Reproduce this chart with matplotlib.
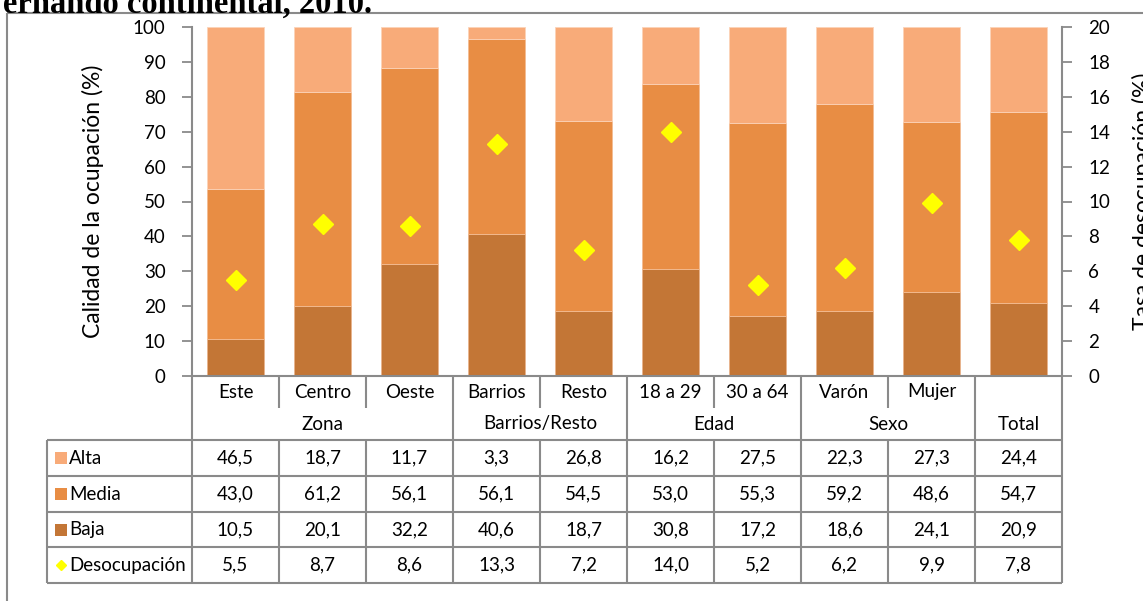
import matplotlib
matplotlib.use('Agg')
import matplotlib.pyplot as plt
import matplotlib.transforms as mtransforms
from matplotlib.lines import Line2D
from matplotlib.patches import Rectangle

plt.rcParams['font.family'] = ['Lato', 'DejaVu Sans']

# ── Datos ───────────────────────────────────────────────────────────
categorias = ['Este', 'Centro', 'Oeste', 'Barrios', 'Resto',
              '18 a 29', '30 a 64', 'Varón', 'Mujer', '']
grupos = ['Zona', 'Barrios/Resto', 'Edad', 'Sexo', 'Total']
grupo_tam = [3, 2, 2, 2, 1]
alta = [46.5, 18.7, 11.7, 3.3, 26.8, 16.2, 27.5, 22.3, 27.3, 24.4]
media = [43.0, 61.2, 56.1, 56.1, 54.5, 53.0, 55.3, 59.2, 48.6, 54.7]
baja = [10.5, 20.1, 32.2, 40.6, 18.7, 30.8, 17.2, 18.6, 24.1, 20.9]
desocupacion = [5.5, 8.7, 8.6, 13.3, 7.2, 14.0, 5.2, 6.2, 9.9, 7.8]

# ── Estilo ──────────────────────────────────────────────────────────
C_ALTA = '#F8AB79'
C_MEDIA = '#E88D44'
C_BAJA = '#C37636'
C_DES = '#FFFF00'
GRIS = '#8A8A8A'
W, H = 1143, 601
FS = 13.5
FS_TIT = 16.5

fig = plt.figure(figsize=(W / 100, H / 100), dpi=100)
fig.patch.set_facecolor('white')

# transformacion en pixeles (origen arriba a la izquierda)
px = mtransforms.Affine2D().scale(1 / W, -1 / H).translate(0, 1) + fig.transFigure

ax = fig.add_axes([192 / W, 1 - 376 / H, 870 / W, 349 / H])
x = list(range(len(categorias)))
ancho = 0.645
base_media = baja
base_alta = [b + m for b, m in zip(baja, media)]
ax.bar(x, baja, ancho, color=C_BAJA, edgecolor='#E9B48C', linewidth=0.6, zorder=2)
ax.bar(x, media, ancho, bottom=base_media, color=C_MEDIA, edgecolor='#F3BC92',
       linewidth=0.6, zorder=2)
ax.bar(x, alta, ancho, bottom=base_alta, color=C_ALTA, edgecolor='#FBD3B8',
       linewidth=0.6, zorder=2)
ax.set_xlim(-0.5, len(categorias) - 0.5)
ax.set_ylim(0, 100)
ax.set_yticks(range(0, 101, 10))
ax.set_xticks([])
ax.tick_params(axis='y', direction='out', length=7, width=1.3, color=GRIS,
               labelsize=FS, pad=12)
ax.set_ylabel('Calidad de la ocupación (%)', fontsize=FS_TIT)
ax.yaxis.set_label_coords((104 - 192) / 870, 0.5)
for s in ['top', 'right']:
    ax.spines[s].set_visible(False)
for s in ['left', 'bottom']:
    ax.spines[s].set_color(GRIS)
    ax.spines[s].set_linewidth(1.5)

ax2 = ax.twinx()
ax2.plot(x, desocupacion, linestyle='none', marker='D', markersize=10,
         markerfacecolor=C_DES, markeredgecolor=C_DES, zorder=3)
ax2.set_ylim(0, 20)
ax2.set_yticks(range(0, 21, 2))
ax2.tick_params(axis='y', direction='out', length=7, width=1.3, color=GRIS,
                labelsize=FS, pad=12)
ax2.set_ylabel('Tasa de desocupación (%)', fontsize=FS_TIT)
ax2.yaxis.set_label_coords((1132 - 192) / 870, 0.5)
for s in ['top', 'left', 'bottom']:
    ax2.spines[s].set_visible(False)
ax2.spines['right'].set_color(GRIS)
ax2.spines['right'].set_linewidth(1.5)

# ── Tabla de datos ──────────────────────────────────────────────────
mix = mtransforms.blended_transform_factory(ax.transData, px)
Y_CAT, Y_GRP, Y_TOP, Y_END = 376, 408, 440, 583
FILAS = [440, 476, 512, 547, 583]


def linea(xs, ys, tr):
    fig.add_artist(Line2D(xs, ys, transform=tr, color=GRIS, linewidth=1.5,
                          solid_capstyle='butt'))


# separadores de grupo (llegan hasta abajo)
limites = [-0.5]
for n in grupo_tam:
    limites.append(limites[-1] + n)
for xb in limites:
    linea([xb, xb], [Y_CAT, Y_END], mix)

# separadores dentro del grupo
inicio = -0.5
for n in grupo_tam:
    for k in range(1, n):
        xb = inicio + k
        linea([xb, xb], [Y_CAT, Y_GRP], mix)
        linea([xb, xb], [Y_TOP, Y_END], mix)
    inicio += n

# horizontales
for yf in FILAS:
    linea([47, 1062], [yf, yf], px)
linea([47, 47], [Y_TOP, Y_END], px)

# rotulos de categoria y de grupo
for i, c in enumerate(categorias):
    ax.text(i, (Y_CAT + Y_GRP) / 2, c, transform=mix, ha='center', va='center',
            fontsize=FS)
inicio = -0.5
for g, n in zip(grupos, grupo_tam):
    ax.text(inicio + n / 2, (Y_GRP + Y_TOP) / 2, g, transform=mix, ha='center',
            va='center', fontsize=FS)
    inicio += n

series = [('Alta', alta, C_ALTA), ('Media', media, C_MEDIA),
          ('Baja', baja, C_BAJA), ('Desocupación', desocupacion, C_DES)]
for r, (nombre, vals, col) in enumerate(series):
    yc = (FILAS[r] + FILAS[r + 1]) / 2
    if nombre == 'Desocupación':
        fig.add_artist(Line2D([61], [yc], transform=px, marker='D', markersize=5.5,
                              color=col, linestyle='none'))
    else:
        fig.add_artist(Rectangle((55, yc + 6), 12, -12, transform=px,
                                 facecolor=col, edgecolor='none'))
    fig.text(69, yc, nombre, transform=px, ha='left', va='center', fontsize=FS)
    for i, v in enumerate(vals):
        ax.text(i, yc, f'{v:.1f}'.replace('.', ','), transform=mix, ha='center',
                va='center', fontsize=FS)

# ── Marco y titulo cortado ──────────────────────────────────────────
linea([7, W], [13, 13], px)
linea([7, 7], [13, H], px)
fig.text(372, 13, 'Fernando continental, 2010.', transform=px, ha='right',
         va='baseline', fontsize=23.5, fontweight='bold', family='Liberation Serif')

fig.savefig('out.png', dpi=100, facecolor='white')
